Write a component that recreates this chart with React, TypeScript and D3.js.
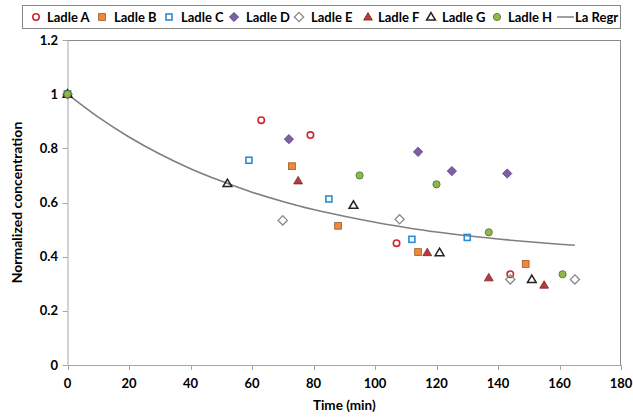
import React from "react";
import * as d3 from "d3";

const seriesNames = ["Ladle A", "Ladle B", "Ladle C", "Ladle D", "Ladle E", "Ladle F", "Ladle G", "Ladle H"];
const ladleA_t = [0, 63, 79, 107, 144];
const ladleA_c = [1, 0.904, 0.849, 0.45, 0.335];
const ladleB_t = [0, 73, 88, 114, 149];
const ladleB_c = [1, 0.734, 0.514, 0.417, 0.373];
const ladleC_t = [0, 59, 85, 112, 130];
const ladleC_c = [1, 0.756, 0.613, 0.464, 0.471];
const ladleD_t = [0, 72, 114, 125, 143];
const ladleD_c = [1, 0.834, 0.787, 0.716, 0.707];
const ladleE_t = [0, 70, 108, 144, 165];
const ladleE_c = [1, 0.534, 0.538, 0.316, 0.316];
const ladleF_t = [0, 75, 117, 137, 155];
const ladleF_c = [1, 0.68, 0.415, 0.322, 0.295];
const ladleG_t = [0, 52, 93, 121, 151];
const ladleG_c = [1, 0.67, 0.59, 0.415, 0.316];
const ladleH_t = [0, 95, 120, 137, 161];
const ladleH_c = [1, 0.7, 0.667, 0.49, 0.335];

const regr_t = [0, 10, 20, 30, 40, 50, 60, 70, 80, 90, 100, 110, 120, 130, 140, 150, 160, 165];
const regr_c = [1, 0.915, 0.842, 0.779, 0.725, 0.679, 0.638, 0.604, 0.574, 0.549, 0.527, 0.508, 0.491, 0.477, 0.465, 0.455, 0.446, 0.442];

const xTicks = [0, 20, 40, 60, 80, 100, 120, 140, 160, 180];
const yTicks = [0, 0.2, 0.4, 0.6, 0.8, 1, 1.2];
const yTickLabels = ["0", "0.2", "0.4", "0.6", "0.8", "1", "1.2"];

type Style = { shape: string; fill: string; stroke: string };
const styles: Style[] = [
  { shape: "circle", fill: "none", stroke: "#d0262e" },
  { shape: "square", fill: "#f0883c", stroke: "#9a5a2a" },
  { shape: "square", fill: "none", stroke: "#2b8bd2" },
  { shape: "diamond", fill: "#7d5fa8", stroke: "#4e3a72" },
  { shape: "diamond", fill: "none", stroke: "#8a8a8a" },
  { shape: "triangle", fill: "#b83a3c", stroke: "#7a2426" },
  { shape: "triangle", fill: "none", stroke: "#222" },
  { shape: "circle", fill: "#8db84c", stroke: "#4f6e26" },
];

const allT = [ladleA_t, ladleB_t, ladleC_t, ladleD_t, ladleE_t, ladleF_t, ladleG_t, ladleH_t];
const allC = [ladleA_c, ladleB_c, ladleC_c, ladleD_c, ladleE_c, ladleF_c, ladleG_c, ladleH_c];

const FONT = "Lato, 'Open Sans', sans-serif";

function Marker({ s, x, y }: { s: Style; x: number; y: number }) {
  if (s.shape === "circle") {
    const filled = s.fill !== "none";
    return <circle cx={x} cy={y} r={filled ? 3.6 : 3.2} fill={s.fill} stroke={s.stroke} strokeWidth={filled ? 0.8 : 1.6} />;
  }
  if (s.shape === "square") {
    const filled = s.fill !== "none";
    const h = filled ? 3.4 : 3;
    return <rect x={x - h} y={y - h} width={2 * h} height={2 * h} fill={s.fill} stroke={s.stroke} strokeWidth={filled ? 0.8 : 1.6} />;
  }
  if (s.shape === "diamond") {
    const r = 4.6;
    return <path d={`M${x},${y - r}L${x + r},${y}L${x},${y + r}L${x - r},${y}Z`} fill={s.fill} stroke={s.stroke} strokeWidth={s.fill === "none" ? 1.3 : 0.8} />;
  }
  const r = 4.4;
  return <path d={`M${x},${y - r}L${x + r},${y + r * 0.7}L${x - r},${y + r * 0.7}Z`} fill={s.fill} stroke={s.stroke} strokeWidth={s.fill === "none" ? 1.5 : 0.8} />;
}

export default function App() {
  const left = 67.5, right = 621, top = 40, bottom = 365;
  const x = d3.scaleLinear().domain([0, 180]).range([left, right]);
  const y = d3.scaleLinear().domain([0, 1.2]).range([bottom, top]);
  const line = d3.line<number>().x((_, i) => x(regr_t[i])).y((d) => y(d)).curve(d3.curveMonotoneX);

  const legendMarkerX = [36, 102, 169, 234, 299, 368, 431, 497];
  const legendTextX = [47, 114, 181, 246, 311, 378, 442, 508];

  return (
    <svg width={633} height={417} style={{ position: "absolute", left: 0, top: 0, background: "#fff" }} fontFamily={FONT}>
      {/* legend */}
      <rect x={22.5} y={5.5} width={598} height={23} fill="#fff" stroke="#888" strokeWidth={1} />
      {seriesNames.map((n, i) => (
        <g key={n}>
          <Marker s={styles[i]} x={legendMarkerX[i]} y={17} />
          <text x={legendTextX[i]} y={21.5} fontSize={13} fontWeight="bold" fill="#000">{n}</text>
        </g>
      ))}
      <line x1={557} x2={574} y1={17} y2={17} stroke="#7f7f7f" strokeWidth={1.5} />
      <text x={575} y={21.5} fontSize={13} fontWeight="bold" fill="#000">La Regr</text>

      {/* plot frame */}
      <line x1={left} x2={right} y1={top + 0.5} y2={top + 0.5} stroke="#8c8c8c" />
      <line x1={right - 0.5} x2={right - 0.5} y1={top} y2={bottom} stroke="#8c8c8c" />
      <line x1={left + 0.5} x2={left + 0.5} y1={top} y2={bottom} stroke="#a6a6a6" />
      <line x1={left} x2={right} y1={bottom + 0.5} y2={bottom + 0.5} stroke="#a6a6a6" />

      {yTicks.map((t, i) => (
        <g key={"y" + i}>
          <line x1={left - 5} x2={left} y1={Math.round(y(t)) + 0.5} y2={Math.round(y(t)) + 0.5} stroke="#a6a6a6" />
          <text x={58} y={y(t) + 4.5} textAnchor="end" fontSize={13} fontWeight="bold" fill="#000">{yTickLabels[i]}</text>
        </g>
      ))}
      {xTicks.map((t) => (
        <g key={"x" + t}>
          <line x1={Math.round(x(t)) + 0.5} x2={Math.round(x(t)) + 0.5} y1={bottom} y2={bottom + 5} stroke="#a6a6a6" />
          <text x={x(t)} y={388} textAnchor="middle" fontSize={13} fontWeight="bold" fill="#000">{t}</text>
        </g>
      ))}

      <text x={x(90)} y={410} textAnchor="middle" fontSize={13.5} fontWeight="bold" fill="#000">Time (min)</text>
      <text transform={`translate(22,${(top + bottom) / 2}) rotate(-90)`} textAnchor="middle" fontSize={14} fontWeight="bold" fill="#000">Normalized concentration</text>

      <path d={line(regr_c) || ""} fill="none" stroke="#7f7f7f" strokeWidth={1.6} />

      {allT.map((ts, si) => (
        <g key={"s" + si}>
          {ts.map((t, j) => (
            <Marker key={j} s={styles[si]} x={x(t)} y={y(allC[si][j])} />
          ))}
        </g>
      ))}
    </svg>
  );
}
